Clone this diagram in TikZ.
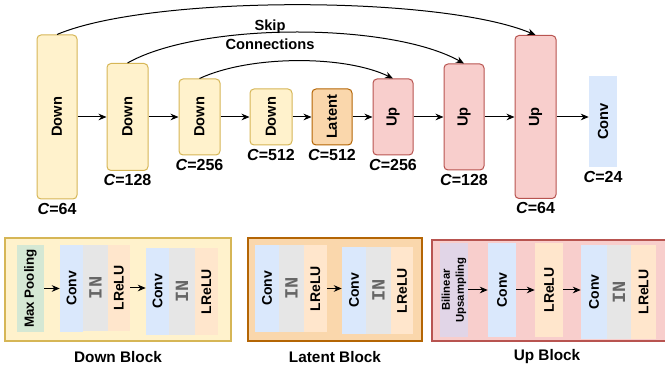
\documentclass[tikz,border=0pt]{standalone}
\usepackage{fontspec}
\setmainfont{Liberation Sans}
\setmonofont{Liberation Mono}
\usepackage{graphicx}
\usetikzlibrary{arrows.meta}
\definecolor{downF}{HTML}{FFF2CC}
\definecolor{downD}{HTML}{D6B656}
\definecolor{latF}{HTML}{FAD7AC}
\definecolor{latD}{HTML}{B46504}
\definecolor{upF}{HTML}{F8CECC}
\definecolor{upD}{HTML}{B85450}
\definecolor{convF}{HTML}{DAE8FC}
\definecolor{inF}{HTML}{E6E6E6}
\definecolor{reluF}{HTML}{FFE6CC}
\definecolor{poolF}{HTML}{D5E8D4}
\definecolor{bilF}{HTML}{E1D5E7}
\definecolor{inT}{HTML}{666666}
\newcommand\pbx[7]{\node[#6, minimum width={(#4-#2)*0.75pt}, minimum height={(#5-#3)*0.75pt}] (#1) at ({(#2+#4)/2},{(#3+#5)/2}) {#7};}
\newcommand\rt[1]{\rotatebox{90}{#1}}
\newcommand\INt{\rotatebox{90}{\ttfamily\bfseries\fontsize{14}{14}\selectfont\color{inT}IN}}
\tikzset{
  box/.style={draw, rounded corners=3pt, line width=0.75pt, inner sep=0pt, font=\fontsize{11}{13}\selectfont\bfseries},
  dn/.style={box, fill=downF, draw=downD},
  lt/.style={box, fill=latF, draw=latD},
  upb/.style={box, fill=upF, draw=upD},
  cvt/.style={inner sep=0pt, fill=convF, font=\fontsize{11}{13}\selectfont\bfseries},
  lab/.style={anchor=north, inner sep=2.5pt, font=\fontsize{12}{14}\selectfont\bfseries},
  sub/.style={inner sep=0pt, font=\fontsize{10.5}{12}\selectfont\bfseries},
  cv/.style={sub, fill=convF},
  inn/.style={sub, fill=inF},
  relu/.style={sub, fill=reluF},
  pool/.style={sub, fill=poolF, font=\fontsize{10}{12}\selectfont\bfseries},
  bil/.style={sub, fill=bilF, font=\fontsize{8.5}{10.5}\selectfont\bfseries},
  outer/.style={line width=1.5pt, inner sep=0pt},
  blab/.style={inner sep=0pt, font=\fontsize{11.5}{14}\selectfont\bfseries},
  arr/.style={-{Stealth[length=6pt,width=5pt]}, line width=0.75pt},
}
\begin{document}
\begin{tikzpicture}[x=0.75pt,y=-0.75pt]
\useasboundingbox (0,0) rectangle (665,370);
% top row
\pbx{d1}{37}{35}{77}{199}{dn}{\rt{Down}}
\pbx{d2}{107}{63.5}{148}{170.5}{dn}{\rt{Down}}
\pbx{d3}{179}{79}{220}{155}{dn}{\rt{Down}}
\pbx{d4}{250}{89}{292}{145}{dn}{\rt{Down}}
\pbx{lat}{312}{89}{352}{145}{lt}{\rt{Latent}}
\pbx{u1}{373}{79}{413}{155}{upb}{\rt{Up}}
\pbx{u2}{444}{64}{484}{170}{upb}{\rt{Up}}
\pbx{u3}{515}{35.5}{556}{198.5}{upb}{\rt{Up}}
\pbx{cv}{589}{76}{617}{167}{cvt}{\rt{Conv}}
\foreach \n/\t in {d1/64,d2/128,d3/256,d4/512,lat/512,u1/256,u2/128,u3/64,cv/24}
  \node[lab] (c\n) at (\n.south) {\textit{C}=\t};
\draw[arr] (d1.east) -- (d1.east -| d2.west);
\draw[arr] (d2.east) -- (d2.east -| d3.west);
\draw[arr] (d3.east) -- (d3.east -| d4.west);
\draw[arr] (d4.east) -- (d4.east -| lat.west);
\draw[arr] (lat.east) -- (lat.east -| u1.west);
\draw[arr] (u1.east) -- (u1.east -| u2.west);
\draw[arr] (u2.east) -- (u2.east -| u3.west);
\draw[arr] (u3.east) -- (u3.east -| cv.west);
% skip connections
\draw[arr] (d1.north) .. controls (150,-5) and (440,-5) .. (u3.north);
\draw[arr] (d2.north) .. controls (200,22) and (390,22) .. (u2.north);
\draw[arr] (d3.north) .. controls (250,55) and (345,55) .. (u1.north);
\node[blab, align=center, font=\fontsize{11}{14.5}\selectfont\bfseries] (skip) at (270,35) {Skip\\Connections};
% Down block
\pbx{db}{5}{238}{231}{341}{outer, fill=downF, draw=downD}{}
\pbx{mp}{17}{245}{44}{332}{pool}{\rt{Max Pooling}}
\pbx{dc1}{60}{245}{83}{332}{cv}{\rt{Conv}}
\pbx{di1}{83}{245}{108}{331}{inn}{\INt}
\pbx{dl1}{108}{245}{130}{331}{relu}{\rt{LReLU}}
\pbx{dc2}{146}{248}{169}{335}{cv}{\rt{Conv}}
\pbx{di2}{169}{248}{195}{335}{inn}{\INt}
\pbx{dl2}{195}{248}{218}{335}{relu}{\rt{LReLU}}
\draw[arr] (mp.east) -- (mp.east -| dc1.west);
\draw[arr] (dl1.east) -- (dl1.east -| dc2.west);
\node[blab] (dbl) at (118,357) {Down Block};
% Latent block
\pbx{lb}{248}{238}{422}{341}{outer, fill=latF, draw=latD}{}
\pbx{lc1}{255}{245}{279}{332}{cv}{\rt{Conv}}
\pbx{li1}{279}{245}{304}{332}{inn}{\INt}
\pbx{ll1}{304}{245}{327}{332}{relu}{\rt{LReLU}}
\pbx{lc2}{342}{247}{366}{334}{cv}{\rt{Conv}}
\pbx{li2}{366}{247}{391}{334}{inn}{\INt}
\pbx{ll2}{391}{247}{413}{334}{relu}{\rt{LReLU}}
\draw[arr] (ll1.east) -- (ll1.east -| lc2.west);
\node[blab] (lbl) at (335,357) {Latent Block};
% Up block
\pbx{ubk}{432}{240}{672}{341}{outer, fill=upF, draw=upD}{}
\pbx{ub}{440}{243}{468}{337}{bil}{\rt{\begin{tabular}{@{}c@{}}Bilinear\\Upsampling\end{tabular}}}
\pbx{uc1}{488}{243}{516}{337}{cv}{\rt{Conv}}
\pbx{ul1}{535}{243}{563}{337}{relu}{\rt{LReLU}}
\pbx{uc2}{581}{245}{607}{339}{cv}{\rt{Conv}}
\pbx{ui2}{607}{245}{631}{339}{inn}{\INt}
\pbx{ul2}{631}{245}{656}{339}{relu}{\rt{LReLU}}
\draw[arr] (ub.east) -- (ub.east -| uc1.west);
\draw[arr] (uc1.east) -- (uc1.east -| ul1.west);
\draw[arr] (ul1.east) -- (ul1.east -| uc2.west);
\node[blab] (ubl) at (547,357) {Up Block};
\end{tikzpicture}
\end{document}
